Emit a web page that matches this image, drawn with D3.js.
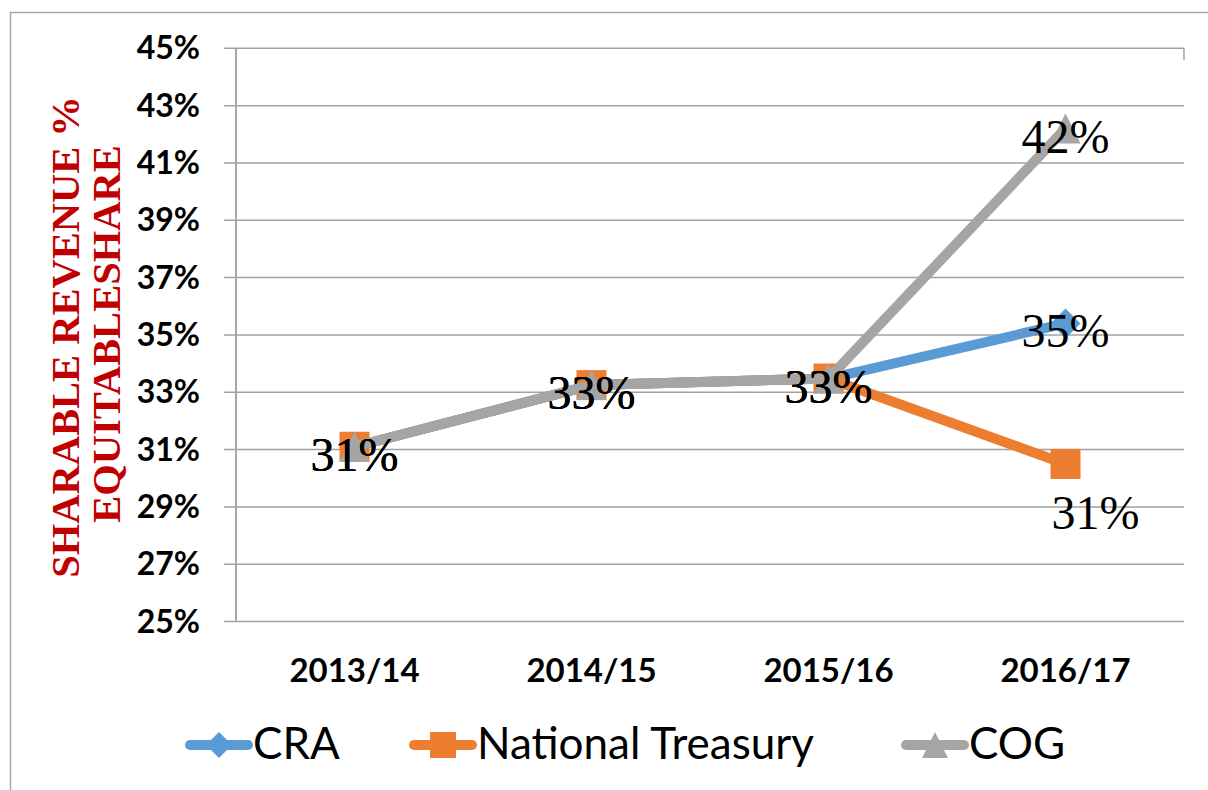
<!DOCTYPE html>
<html lang="en">
<head>
  <meta charset="UTF-8">
  <title>Sharable revenue % equitable share</title>
  <style>
    body, html {
      margin: 0;
      padding: 0;
      background: #fff;
    }
    svg {
      display: block;
    }
  </style>
</head>
<body>
  <svg id="svg" width="1208" height="790"></svg>

  <script src="https://cdn.jsdelivr.net/npm/d3@7"></script>
  <script>
    // data
    const years = ['2013/14', '2014/15', '2015/16', '2016/17']
    const craValues = [31.1, 33.25, 33.48, 35.4]
    const treasuryValues = [31.1, 33.25, 33.48, 30.5]
    const cogValues = [31.1, 33.25, 33.48, 42.2]
    const seriesNames = ['CRA', 'National Treasury', 'COG']
    const yTicks = [25, 27, 29, 31, 33, 35, 37, 39, 41, 43, 45]

    const colors = ['#5B9BD5', '#ED7D31', '#A5A5A5']
    const markers = ['diamond', 'square', 'triangle']

    const series = seriesNames.map((name, i) => ({
      name,
      values: [craValues, treasuryValues, cogValues][i],
      color: colors[i],
      marker: markers[i]
    }))

    const svg = d3.select('#svg')

    const x = d3.scaleBand()
      .domain(years)
      .range([236, 1184])

    const y = d3.scaleLinear()
      .domain([25, 45])
      .range([621.6, 48.3])

    // outer chart frame (only top and left visible)
    svg.append('path')
      .attr('d', 'M10.5,790 V12.5 H1208')
      .attr('fill', 'none')
      .attr('stroke', '#A6A6A6')
      .attr('stroke-width', 1.5)

    // gridlines
    svg.append('g')
      .selectAll('line')
      .data(yTicks)
      .enter()
      .append('line')
      .attr('x1', 224)
      .attr('x2', 1184)
      .attr('y1', d => y(d))
      .attr('y2', d => y(d))
      .attr('stroke', '#A0A0A0')
      .attr('stroke-width', 1.5)

    // small right edge tick at top
    svg.append('line')
      .attr('x1', 1184).attr('x2', 1184)
      .attr('y1', y(45)).attr('y2', y(45) + 12)
      .attr('stroke', '#A0A0A0')
      .attr('stroke-width', 1.5)

    // y axis line
    svg.append('line')
      .attr('x1', 236).attr('x2', 236)
      .attr('y1', y(45)).attr('y2', y(25))
      .attr('stroke', '#A6A6A6')
      .attr('stroke-width', 2)

    // y tick labels
    svg.append('g')
      .selectAll('text')
      .data(yTicks)
      .enter()
      .append('text')
      .text(d => d + '%')
      .attr('x', 200)
      .attr('y', d => y(d) + 11)
      .attr('text-anchor', 'end')
      .attr('font-family', 'Lato, sans-serif')
      .attr('font-weight', 'bold')
      .attr('font-size', 32)
      .attr('fill', '#000')

    // x labels
    svg.append('g')
      .selectAll('text')
      .data(years)
      .enter()
      .append('text')
      .text(d => d)
      .attr('x', d => x(d) + x.bandwidth() / 2)
      .attr('y', 682)
      .attr('text-anchor', 'middle')
      .attr('font-family', 'Lato, sans-serif')
      .attr('font-weight', 'bold')
      .attr('font-size', 33)
      .attr('fill', '#000')

    // y axis title, two rotated lines
    const titleLines = [
      { text: 'SHARABLE REVENUE %', x: 79, cy: 337 },
      { text: 'EQUITABLESHARE', x: 120, cy: 334 }
    ]
    svg.append('g')
      .selectAll('text')
      .data(titleLines)
      .enter()
      .append('text')
      .text(d => d.text)
      .attr('transform', d => `translate(${d.x}, ${d.cy}) rotate(-90)`)
      .attr('text-anchor', 'middle')
      .attr('font-family', '"Liberation Serif", "Times New Roman", serif')
      .attr('font-weight', 'bold')
      .attr('font-size', 40.5)
      .attr('fill', '#C00000')

    function markerPath(type, s) {
      if (type === 'diamond') return `M0,${-s} L${s},0 L0,${s} L${-s},0 Z`
      if (type === 'square') return `M${-s},${-s} H${s} V${s} H${-s} Z`
      return `M0,${-s} L${s},${s} L${-s},${s} Z`
    }

    const cx = d => x(d) + x.bandwidth() / 2

    const line = d3.line()
      .x((d, i) => cx(years[i]))
      .y(d => y(d))

    const plot = svg.append('g')

    series.forEach(s => {
      const g = plot.append('g')
      g.append('path')
        .attr('d', line(s.values))
        .attr('fill', 'none')
        .attr('stroke', s.color)
        .attr('stroke-width', 10)
        .attr('stroke-linejoin', 'round')

      g.selectAll('path.marker')
        .data(s.values)
        .enter()
        .append('path')
        .attr('class', 'marker')
        .attr('d', markerPath(s.marker, 15))
        .attr('transform', (d, i) => `translate(${cx(years[i])}, ${y(d)})`)
        .attr('fill', s.color)
    })

    // data labels
    const labelGroup = svg.append('g')
    series.forEach((s, si) => {
      labelGroup.selectAll(null)
        .data(s.values)
        .enter()
        .append('text')
        .text(d => Math.round(d) + '%')
        .attr('x', (d, i) => cx(years[i]) + (si === 1 && i === 3 ? 30 : 0))
        .attr('y', (d, i) => y(d) + (si === 1 && i === 3 ? 65 : 24))
        .attr('text-anchor', 'middle')
        .attr('font-family', '"Liberation Serif", "Times New Roman", serif')
        .attr('font-size', 48)
        .attr('fill', '#000')
    })

    // legend
    const legendX = [190, 414, 906]
    const legend = svg.append('g')
    series.forEach((s, i) => {
      const lg = legend.append('g')
        .attr('transform', `translate(${legendX[i]}, 745)`)
      lg.append('line')
        .attr('x1', 0).attr('x2', 58)
        .attr('y1', 0).attr('y2', 0)
        .attr('stroke', s.color)
        .attr('stroke-width', 10)
        .attr('stroke-linecap', 'round')
      lg.append('path')
        .attr('d', markerPath(s.marker, 13))
        .attr('transform', 'translate(29, 0)')
        .attr('fill', s.color)
      lg.append('text')
        .text(s.name)
        .attr('x', 63)
        .attr('y', 14)
        .attr('font-family', 'Lato, sans-serif')
        .attr('font-size', 44)
        .attr('fill', '#000')
    })
  </script>
</body>
</html>
